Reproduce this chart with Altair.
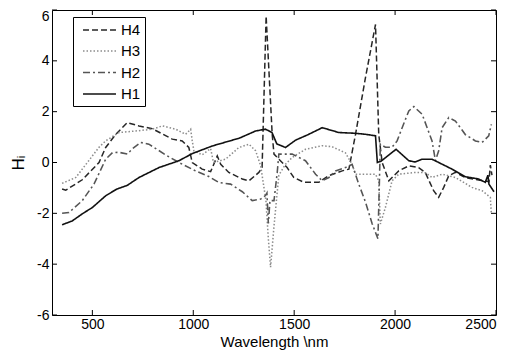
import altair as alt
import pandas as pd

# ---- data ----
series_names = ["H4", "H3", "H2", "H1"]

h1_x = [350, 400, 450, 500, 566, 620, 673, 731, 830, 929, 995, 1094, 1229, 1309, 1358, 1390, 1414,
        1457, 1507, 1570, 1639, 1721, 1800, 1853, 1903, 1912, 1930, 2005, 2068, 2100, 2134, 2183,
        2216, 2282, 2348, 2414, 2447, 2460, 2465, 2490]
h1_y = [-2.45, -2.3, -2.02, -1.77, -1.31, -1.05, -0.9, -0.59, -0.2, 0.07, 0.35, 0.65, 0.96, 1.24, 1.31, 1.18, 0.73,
        0.59, 0.88, 1.1, 1.37, 1.18, 1.15, 1.11, 1.05, 0.0, 0.05, 0.52, 0.07, 0.02, 0.13, 0.13,
        0.0, -0.26, -0.56, -0.65, -0.78, -0.5, -0.85, -1.15]

h2_x = [350, 384, 450, 508, 566, 600, 632, 673, 700, 740, 780, 863, 929, 1011, 1077, 1127, 1185, 1243,
        1292, 1334, 1358, 1365, 1372, 1380, 1400, 1416, 1424, 1457, 1490, 1523, 1556, 1606, 1639, 1672,
        1705, 1754, 1787, 1820, 1853, 1886, 1915, 1927, 1952, 1985, 2010, 2035, 2068, 2093, 2134, 2183,
        2200, 2216, 2233, 2266, 2299, 2348, 2398, 2431, 2464, 2477]
h2_y = [-2.0, -1.97, -1.5, -0.85, 0.13, 0.39, 0.4, 0.33, 0.55, 0.79, 0.72, 0.3, 0.0, -0.33, -0.55, -0.79, -0.85, -1.15,
        -1.5, -1.44, -1.3, -1.2, -2.4, -1.5, -1.5, -0.39, 0.33, 0.33, 0.33, 0.2, 0.07, -0.46, -0.72, -0.59,
        -0.33, -0.2, -0.07, -0.85, -1.55, -2.4, -3.0, 0.72, 0.6, 0.6, 0.85, 1.37, 2.03, 2.2, 1.9, 0.85,
        0.07, 0.46, 1.37, 1.77, 1.63, 1.1, 0.85, 0.79, 1.05, 1.5]

h3_x = [350, 418, 480, 533, 566, 632, 715, 797, 847, 913, 962, 987, 995, 1003, 1044, 1086, 1100, 1160,
        1226, 1276, 1309, 1334, 1360, 1372, 1383, 1400, 1424, 1457, 1490, 1556, 1639, 1688, 1754, 1787,
        1804, 1903, 1919, 1927, 1952, 1985, 2018, 2101, 2150, 2183, 2233, 2299, 2381, 2431, 2472, 2477]
h3_y = [-0.82, -0.59, 0.05, 0.6, 0.85, 1.18, 1.24, 1.31, 1.44, 1.31, 1.11, 1.31, 0.85, 0.46, 0.3, 0.55, 0.0, 0.13,
        0.59, 0.72, 0.46, -0.13, -1.5, -3.0, -4.12, -2.5, -0.5, -0.07, 0.2, 0.52, 0.66, 0.62, 0.38, -0.07,
        -0.46, -0.46, -0.72, -2.42, -1.77, -0.72, -0.46, -0.39, -0.4, -0.59, -0.46, -0.59, -0.98, -1.11, -1.37, -2.03]

h4_x = [350, 368, 450, 533, 566, 616, 673, 731, 797, 896, 945, 978, 995, 1044, 1086, 1119, 1136, 1176,
        1243, 1276, 1325, 1341, 1361, 1391, 1400, 1416, 1465, 1498, 1548, 1622, 1671, 1738, 1771, 1804,
        1853, 1903, 1919, 1936, 1969, 2018, 2068, 2117, 2150, 2191, 2216, 2241, 2266, 2299, 2350, 2420,
        2465, 2472, 2480]
h4_y = [-1.04, -1.09, -0.68, 0.0, 0.59, 1.11, 1.57, 1.44, 1.33, 0.92, 0.85, 0.59, 0.0, -0.26, -0.36, 0.26, -0.07, -0.39,
        -0.65, -0.72, -0.39, -0.2, 5.76, 1.11, 0.33, 0.2, -0.2, -0.59, -0.78, -0.78, -0.52, -0.33, -0.26, 1.11,
        3.33, 5.43, 1.1, 0.0, -0.72, -0.33, -0.13, -0.2, -0.4, -1.11, -1.37, -0.98, -0.52, -0.39, -0.6, -0.7,
        -0.75, -0.1, -0.5]

x_ticks = [500, 1000, 1500, 2000, 2500]
y_ticks = [-6, -4, -2, 0, 2, 4, 6]

# ---- styles ----
colors = ["#262626", "#8c8c8c", "#555555", "#111111"]
dashes = [[6, 3], [1.5, 2], [7, 3, 2, 3], [1, 0]]
widths = [1.5, 1.6, 2.8, 1.5]

rows = []
for name, xs, ys in [("H4", h4_x, h4_y), ("H3", h3_x, h3_y), ("H2", h2_x, h2_y), ("H1", h1_x, h1_y)]:
    for xv, yv in zip(xs, ys):
        rows.append({"series": name, "wl": xv, "h": yv})
df = pd.DataFrame(rows)

W, H = 444, 305
FONT = "Liberation Sans"
xscale = alt.Scale(domain=[300, 2500], nice=False, zero=False)
yscale = alt.Scale(domain=[-6, 6], nice=False)

x_axis = alt.Axis(
    values=x_ticks, ticks=False, domain=False, grid=False, labelFontSize=14, labelFont=FONT,
    labelColor="black", labelPadding=2, labelExpr="'' + datum.value",
    title="Wavelength \\nm", titleFont=FONT, titleFontSize=15,
    titleFontWeight="normal", titleColor="black", titleY=31.5, titleBaseline="alphabetic")
y_axis = alt.Axis(
    values=y_ticks, ticks=False, domain=False, grid=False, labelFontSize=14, labelFont=FONT,
    labelColor="black", labelPadding=3, labelExpr="'' + datum.value",
    labelOffset={"condition": {"test": "datum.value == 6", "value": 6}, "value": 0},
    title="H\u1d62", titleFont=FONT, titleFontSize=17, titleFontWeight="normal",
    titleColor="black", titlePadding=9)

legend = alt.Legend(
    title=None, orient="none", legendX=21, legendY=7,
    strokeColor="black", fillColor="white", padding=4,
    symbolType="M-2,0H2", symbolSize=272, symbolOffset=13,
    labelFontSize=15, labelFont=FONT, labelColor="black",
    rowPadding=3.5, labelOffset=12,
)

lines = alt.Chart(df).mark_line().encode(
    x=alt.X("wl:Q", scale=xscale, axis=x_axis),
    y=alt.Y("h:Q", scale=yscale, axis=y_axis),
    color=alt.Color("series:N", scale=alt.Scale(domain=series_names, range=colors), legend=legend),
    strokeDash=alt.StrokeDash("series:N", scale=alt.Scale(domain=series_names, range=dashes), legend=legend),
    strokeWidth=alt.StrokeWidth("series:N", scale=alt.Scale(domain=series_names, range=widths), legend=legend),
)

xt = pd.DataFrame({"v": x_ticks})
yt = pd.DataFrame({"v": y_ticks})
tick_bottom = alt.Chart(xt).mark_rule(color="black").encode(
    x=alt.X("v:Q", scale=xscale, axis=x_axis), y=alt.value(H), y2=alt.value(H - 5))
tick_top = alt.Chart(xt).mark_rule(color="black").encode(
    x=alt.X("v:Q", scale=xscale, axis=x_axis), y=alt.value(0), y2=alt.value(5))
tick_left = alt.Chart(yt).mark_rule(color="black").encode(
    y=alt.Y("v:Q", scale=yscale, axis=y_axis), x=alt.value(0), x2=alt.value(5))
tick_right = alt.Chart(yt).mark_rule(color="black").encode(
    y=alt.Y("v:Q", scale=yscale, axis=y_axis), x=alt.value(W), x2=alt.value(W - 5))

chart = alt.layer(lines, tick_bottom, tick_top, tick_left, tick_right).properties(
    width=W, height=H,
    autosize=alt.AutoSizeParams(type="none"),
    padding={"left": 44, "top": 2, "right": 12, "bottom": 35},
).configure_view(stroke="black", strokeWidth=1)

chart.save("out.html", embed_options={"renderer": "svg", "actions": False})
